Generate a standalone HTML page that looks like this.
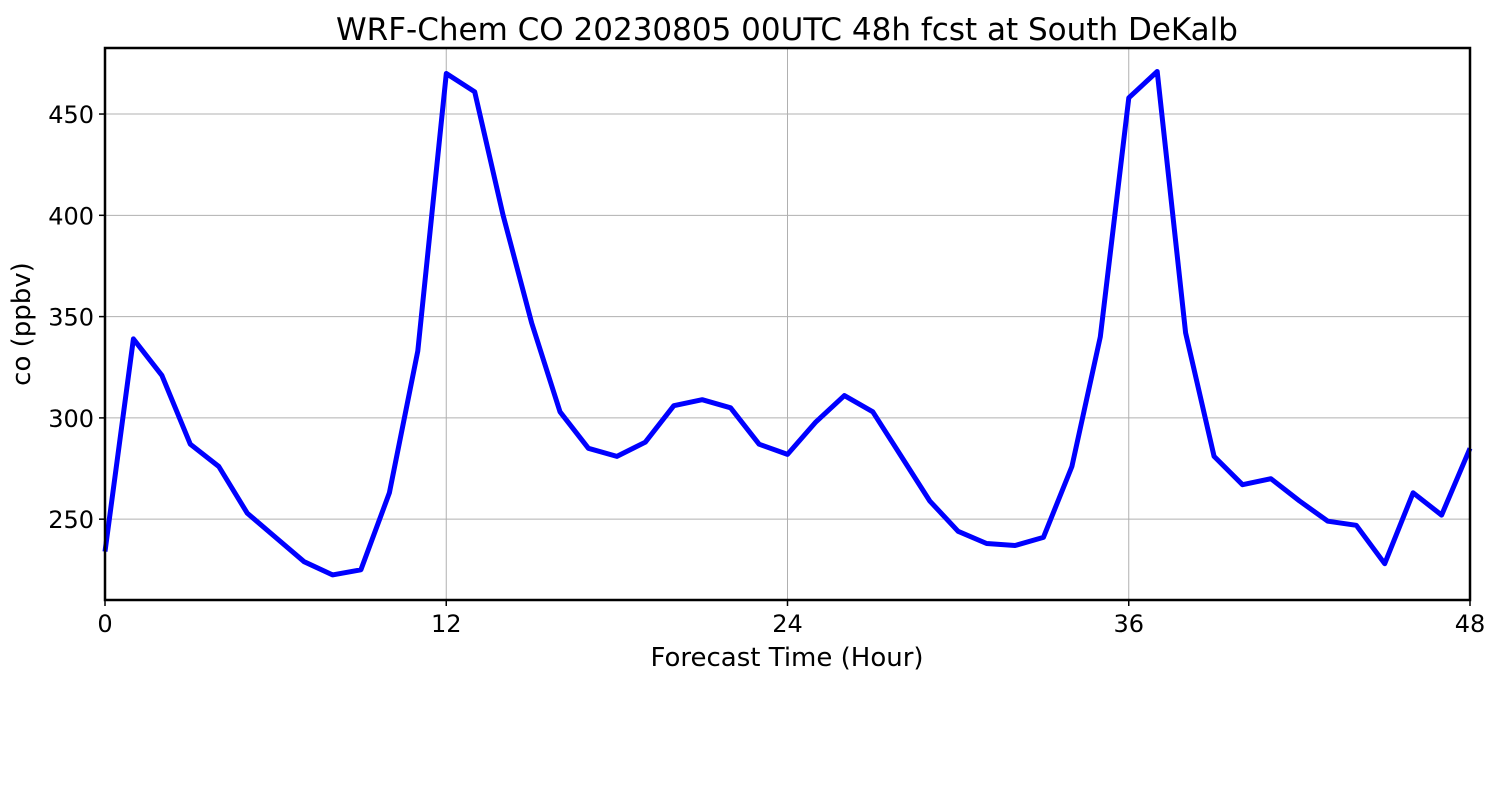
<!DOCTYPE html>
<html><head><meta charset="utf-8">
<style>
html,body{margin:0;padding:0;background:#fff;}
svg{display:block;font-family:"DejaVu Sans","Liberation Sans",sans-serif;}
</style></head>
<body>
<svg id="chart" width="1500" height="800" viewBox="0 0 1500 800">
<rect width="1500" height="800" fill="#fff"/>
<text x="787" y="40" font-size="31" text-anchor="middle">WRF-Chem CO  20230805 00UTC 48h fcst at South DeKalb</text>
<g id="grid"></g>
<g id="xticks"></g>
<g id="yticks"></g>
<path id="line" fill="none" stroke="#0000ff" stroke-width="5" stroke-linejoin="round"/>
<rect x="105" y="48" width="1365" height="552" fill="none" stroke="#000" stroke-width="2.5"/>
<text x="787" y="666" font-size="26" text-anchor="middle">Forecast Time (Hour)</text>
<text transform="translate(30,324) rotate(-90)" font-size="26" text-anchor="middle">co  (ppbv)</text>
</svg>
<script>
const hours = [0,1,2,3,4,5,6,7,8,9,10,11,12,13,14,15,16,17,18,19,20,21,22,23,24,25,26,27,28,29,30,31,32,33,34,35,36,37,38,39,40,41,42,43,44,45,46,47,48];
const coValues = [234,339,321,287,276,253,241,229,222.5,225,263,333,470,461,400,347,303,285,281,288,306,309,305,287,282,298,311,303,281,259,244,238,237,241,276,340,458,471,342,281,267,270,259,249,247,228,263,252,285];
const xTicks = [0,12,24,36,48];
const yTicks = [250,300,350,400,450];
const X0=105,X1=1470,Y0=600,Y1=48,XMIN=0,XMAX=48,YMIN=210.1,YMAX=482.6;
function xs(v){return X0+(v-XMIN)/(XMAX-XMIN)*(X1-X0);}
function ys(v){return Y0-(v-YMIN)/(YMAX-YMIN)*(Y0-Y1);}
const NS="http://www.w3.org/2000/svg";
const grid=document.getElementById('grid'),gx=document.getElementById('xticks'),gy=document.getElementById('yticks');
xTicks.forEach(t=>{
  const x=xs(t);
  const l=document.createElementNS(NS,'line');
  
  
  l.setAttribute('x1',x);l.setAttribute('x2',x);l.setAttribute('y1',Y1);l.setAttribute('y2',Y0);
  l.setAttribute('stroke','#b0b0b0');l.setAttribute('stroke-width','1');
  grid.appendChild(l);
  const tk=document.createElementNS(NS,'line');
  
  
  tk.setAttribute('x1',x);tk.setAttribute('x2',x);tk.setAttribute('y1',Y0);tk.setAttribute('y2',Y0+6);
  tk.setAttribute('stroke','#000');tk.setAttribute('stroke-width','1.5');
  gx.appendChild(tk);
  const tx=document.createElementNS(NS,'text');
  
  
  tx.setAttribute('x',x);tx.setAttribute('y',Y0+32);tx.setAttribute('font-size','24');tx.setAttribute('text-anchor','middle');
  tx.textContent=t;gx.appendChild(tx);
});
yTicks.forEach(t=>{
  const y=ys(t);
  const l=document.createElementNS(NS,'line');
  
  
  l.setAttribute('x1',X0);l.setAttribute('x2',X1);l.setAttribute('y1',y);l.setAttribute('y2',y);
  l.setAttribute('stroke','#b0b0b0');l.setAttribute('stroke-width','1');
  grid.appendChild(l);
  const tk=document.createElementNS(NS,'line');
  
  
  tk.setAttribute('x1',X0-6);tk.setAttribute('x2',X0);tk.setAttribute('y1',y);tk.setAttribute('y2',y);
  tk.setAttribute('stroke','#000');tk.setAttribute('stroke-width','1.5');
  gy.appendChild(tk);
  const tx=document.createElementNS(NS,'text');
  
  
  tx.setAttribute('x',X0-11);tx.setAttribute('y',y+9);tx.setAttribute('font-size','24');tx.setAttribute('text-anchor','end');
  tx.textContent=t;gy.appendChild(tx);
});
document.getElementById('line').setAttribute('d',hours.map((h,i)=>(i?'L':'M')+xs(h).toFixed(1)+','+ys(coValues[i]).toFixed(1)).join(''));
</script>
</body></html>
